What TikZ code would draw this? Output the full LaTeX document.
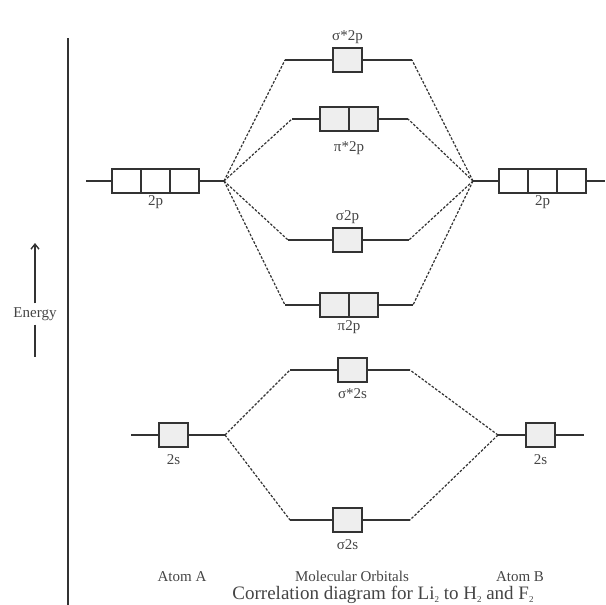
\documentclass[tikz,border=0pt]{standalone}
\usepackage{fontspec}
\setmainfont{Liberation Serif}
\usetikzlibrary{arrows.meta}
\definecolor{ln}{HTML}{333333}
\definecolor{tx}{HTML}{444444}
\definecolor{bx}{HTML}{EEEEEE}
\newcommand{\smsub}[1]{\raisebox{-2.5pt}{\fontsize{9}{9}\selectfont #1}}
\tikzset{
  lvl/.style={draw=ln, line width=1.6pt},
  conn/.style={draw=ln, line width=1.2pt, dash pattern=on 2.6pt off 1.6pt},
  mobox/.style={draw=ln, fill=bx, line width=1.4pt, minimum width=29pt, minimum height=24pt, inner sep=0pt, outer sep=0pt},
  aobox/.style={draw=ln, fill=white, line width=1.4pt, minimum width=29pt, minimum height=24pt, inner sep=0pt, outer sep=0pt},
  lbl/.style={text=tx, font=\fontsize{15}{17}\selectfont, inner sep=0pt},
  captxt/.style={text=tx, font=\fontsize{19}{22}\selectfont, inner sep=0pt}
}
\begin{document}
\begin{tikzpicture}[x=1pt,y=-1pt]
\useasboundingbox (0,0) rectangle (606,605);
% axis
\coordinate (axT) at (68,38);
\coordinate (axB) at (68,605);
\draw[ln, line width=1.6pt] (axT) -- (axB);
\node[lbl] (E) at (35,314) {Energy};
\coordinate (eT) at (35,243);
\coordinate (eB) at (35,357);
\draw[ln, line width=1.4pt, -{Straight Barb[length=5pt,width=8pt]}] ([yshift=4pt]E.north) -- (eT);
\draw[ln, line width=1.4pt] ([yshift=-4pt]E.south) -- (eB);

% ---- atom A 2p
\coordinate (apL) at (86,181);
\coordinate (apJ) at (224,181);
\draw[lvl] (apL) -- (apJ);
\node[aobox] (ap1) at (126.5,181) {};
\node[aobox] (ap2) at (155.5,181) {};
\node[aobox] (ap3) at (184.5,181) {};
\node[lbl] (apT) at (155.5,202) {2p};

% ---- atom B 2p
\coordinate (bpJ) at (473,181);
\coordinate (bpR) at (605,181);
\draw[lvl] (bpJ) -- (bpR);
\node[aobox] (bp1) at (513.5,181) {};
\node[aobox] (bp2) at (542.5,181) {};
\node[aobox] (bp3) at (571.5,181) {};
\node[lbl] (bpT) at (542.5,202) {2p};

% ---- atom A 2s
\coordinate (asL) at (131,435);
\coordinate (asJ) at (225,435);
\draw[lvl] (asL) -- (asJ);
\node[mobox] (as1) at (173.5,435) {};
\node[lbl] (asT) at (173.5,460) {2s};

% ---- atom B 2s
\coordinate (bsJ) at (498,435);
\coordinate (bsR) at (584,435);
\draw[lvl] (bsJ) -- (bsR);
\node[mobox] (bs1) at (540.5,435) {};
\node[lbl] (bsT) at (540.5,460) {2s};

% ---- sigma*2p
\coordinate (m1L) at (285,60);
\coordinate (m1R) at (412,60);
\draw[lvl] (m1L) -- (m1R);
\node[mobox] (m1b) at (347.5,60) {};
\node[lbl] (m1t) at (347.5,37) {σ*2p};

% ---- pi*2p
\coordinate (m2L) at (292,119);
\coordinate (m2R) at (408,119);
\draw[lvl] (m2L) -- (m2R);
\node[mobox] (m2a) at (334.5,119) {};
\node[mobox] (m2b) at (363.5,119) {};
\node[lbl] (m2t) at (349,148) {π*2p};

% ---- sigma2p
\coordinate (m3L) at (288,240);
\coordinate (m3R) at (409,240);
\draw[lvl] (m3L) -- (m3R);
\node[mobox] (m3b) at (347.5,240) {};
\node[lbl] (m3t) at (347.5,217) {σ2p};

% ---- pi2p
\coordinate (m4L) at (285,305);
\coordinate (m4R) at (413,305);
\draw[lvl] (m4L) -- (m4R);
\node[mobox] (m4a) at (334.5,305) {};
\node[mobox] (m4b) at (363.5,305) {};
\node[lbl] (m4t) at (349,327) {π2p};

% ---- sigma*2s
\coordinate (m5L) at (290,370);
\coordinate (m5R) at (410,370);
\draw[lvl] (m5L) -- (m5R);
\node[mobox] (m5b) at (352.5,370) {};
\node[lbl] (m5t) at (352.5,394) {σ*2s};

% ---- sigma2s
\coordinate (m6L) at (290,520);
\coordinate (m6R) at (410,520);
\draw[lvl] (m6L) -- (m6R);
\node[mobox] (m6b) at (347.5,520) {};
\node[lbl] (m6t) at (347.5,545) {σ2s};

% ---- correlation lines
\foreach \m in {m1,m2,m3,m4} {
  \draw[conn] (apJ) -- (\m L);
  \draw[conn] (bpJ) -- (\m R);
}
\foreach \m in {m5,m6} {
  \draw[conn] (asJ) -- (\m L);
  \draw[conn] (bsJ) -- (\m R);
}

% ---- bottom labels
\node[lbl, anchor=base] (la) at (182,581) {Atom A};
\node[lbl, anchor=base] (lm) at (352,581) {Molecular Orbitals};
\node[lbl, anchor=base] (lb) at (520,581) {Atom B};
\node[captxt] (cp) at (383,595) {Correlation diagram for Li\smsub{2} to H\smsub{2} and F\smsub{2}};
\end{tikzpicture}
\end{document}
